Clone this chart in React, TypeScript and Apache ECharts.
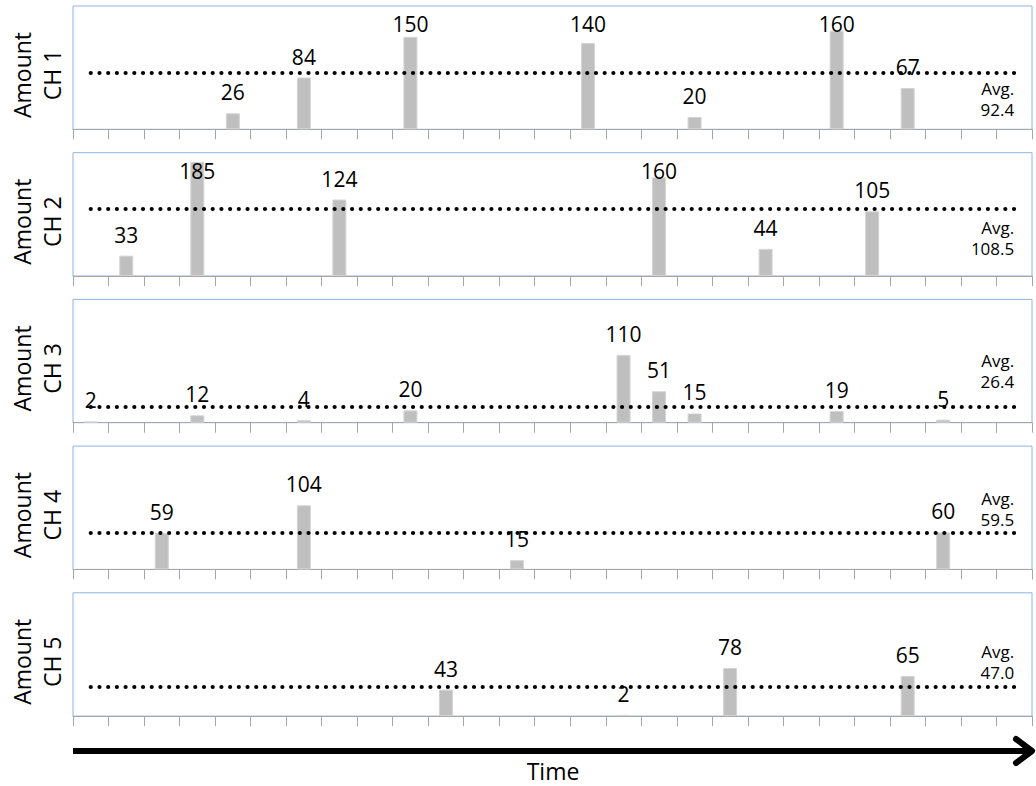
import React, { useEffect, useRef } from "react";
import * as echarts from "echarts";

// Time slots along the shared horizontal axis (no labels are drawn for them)
const timeSlots = [
  "T1", "T2", "T3", "T4", "T5", "T6", "T7", "T8", "T9", "T10",
  "T11", "T12", "T13", "T14", "T15", "T16", "T17", "T18", "T19", "T20",
  "T21", "T22", "T23", "T24", "T25", "T26", "T27",
];

const channelNames = ["CH 1", "CH 2", "CH 3", "CH 4", "CH 5"];

// Amount per time slot for each channel (null = no activity)
const ch1 = [null, null, null, null, 26, null, 84, null, null, 150, null, null, null, null, 140, null, null, 20, null, null, null, 160, null, 67, null, null, null];
const ch2 = [null, 33, null, 185, null, null, null, 124, null, null, null, null, null, null, null, null, 160, null, null, 44, null, null, 105, null, null, null, null];
const ch3 = [2, null, null, 12, null, null, 4, null, null, 20, null, null, null, null, null, 110, 51, 15, null, null, null, 19, null, null, 5, null, null];
const ch4 = [null, null, 59, null, null, null, 104, null, null, null, null, null, 15, null, null, null, null, null, null, null, null, null, null, null, 60, null, null];
const ch5 = [null, null, null, null, null, null, null, null, null, null, 43, null, null, null, null, 2, null, null, 78, null, null, null, null, 65, null, null, null];

const channels = [ch1, ch2, ch3, ch4, ch5];

const yMax = 200;

// Layout
const FONT = "'Open Sans', 'Noto Sans', sans-serif";
const GRID_LEFT = 73;
const GRID_WIDTH = 959;
const PANEL_TOP = 6;
const PANEL_STEP = 146.7;
const PANEL_HEIGHT = 123.3;
const avgLabelSide = ["insideEndBottom", "insideEndBottom", "insideEndTop", "insideEndTop", "insideEndTop"];
const avgLabelGap = [6, 8, 14, 3, 4];

function mean(values: (number | null)[]): number {
  const v = values.filter((x): x is number => x != null);
  return v.reduce((a, b) => a + b, 0) / v.length;
}

export default function App() {
  const ref = useRef<HTMLDivElement>(null);

  useEffect(() => {
    if (!ref.current) return;
    const chart = echarts.init(ref.current, undefined, { renderer: "svg" });

    const grids: any[] = [];
    const xAxes: any[] = [];
    const yAxes: any[] = [];
    const series: any[] = [];
    const graphics: any[] = [];

    channels.forEach((data, i) => {
      const top = PANEL_TOP + PANEL_STEP * i;
      const avg = mean(data);

      grids.push({
        left: GRID_LEFT,
        width: GRID_WIDTH,
        top,
        height: PANEL_HEIGHT,
        show: true,
        borderColor: "#8EB4E3",
        borderWidth: 1,
        backgroundColor: "transparent",
      });

      xAxes.push({
        type: "category",
        gridIndex: i,
        data: timeSlots,
        boundaryGap: true,
        axisLine: { show: true, lineStyle: { color: "#A6A6A6", width: 1 } },
        axisTick: { show: true, interval: 0, length: 10, lineStyle: { color: "#A6A6A6" } },
        axisLabel: { show: false },
        splitLine: { show: false },
      });

      yAxes.push({
        type: "value",
        gridIndex: i,
        min: 0,
        max: yMax,
        show: false,
      });

      const minLabelTop = top + 7;
      series.push({
        type: "bar",
        name: channelNames[i],
        xAxisIndex: i,
        yAxisIndex: i,
        data,
        barWidth: 14,
        itemStyle: { color: "#BFBFBF", borderColor: "#D4D4D4", borderWidth: 1 },
        label: {
          show: true,
          position: "top",
          distance: 10,
          fontSize: 21,
          lineHeight: 22,
          color: "#000",
          fontFamily: FONT,
        },
        // keep value labels inside the panel
        labelLayout: (params: any) => {
          const r = params.labelRect;
          return r.y < minLabelTop ? { dy: minLabelTop - r.y } : { dy: 0 };
        },
        markLine: {
          silent: true,
          symbol: ["none", "none"],
          lineStyle: { color: "#000", width: 4.2, type: [0.01, 8.7], cap: "round" },
          label: {
            show: true,
            position: avgLabelSide[i],
            distance: [0, avgLabelGap[i]],
            formatter: `Avg.\n${avg.toFixed(1)}`,
            fontSize: 17,
            lineHeight: 21,
            color: "#000",
            fontFamily: FONT,
            align: "right",
          },
          data: [[{ coord: [timeSlots[0], avg] }, { coord: [timeSlots[timeSlots.length - 1], avg] }]],
        },
      });

      graphics.push({
        type: "text",
        x: 37,
        y: top + 69,
        rotation: Math.PI / 2,
        style: {
          text: `Amount\n${channelNames[i]}`,
          align: "center",
          verticalAlign: "middle",
          textAlign: "center",
          textVerticalAlign: "middle",
          fontSize: 23,
          lineHeight: 30,
          fontFamily: FONT,
          fill: "#000",
        },
      });
    });

    // Time arrow under the panels
    graphics.push(
      {
        type: "line",
        shape: { x1: 73, y1: 751, x2: 1031, y2: 751 },
        style: { stroke: "#000", lineWidth: 6 },
      },
      {
        type: "polyline",
        shape: { points: [[1016, 739], [1032, 751], [1016, 763]] },
        style: { stroke: "#000", lineWidth: 6, lineCap: "round", lineJoin: "round", fill: null },
      },
      {
        type: "text",
        x: 553,
        y: 771,
        style: {
          text: "Time",
          align: "center",
          verticalAlign: "middle",
          textAlign: "center",
          textVerticalAlign: "middle",
          fontSize: 23,
          lineHeight: 24,
          fontFamily: FONT,
          fill: "#000",
        },
      }
    );

    chart.setOption({
      animation: false,
      backgroundColor: "#fff",
      grid: grids,
      xAxis: xAxes,
      yAxis: yAxes,
      series,
      graphic: graphics,
    });

    return () => chart.dispose();
  }, []);

  return (
    <div
      ref={ref}
      style={{ position: "absolute", left: 0, top: 0, width: 1036, height: 786 }}
    />
  );
}
